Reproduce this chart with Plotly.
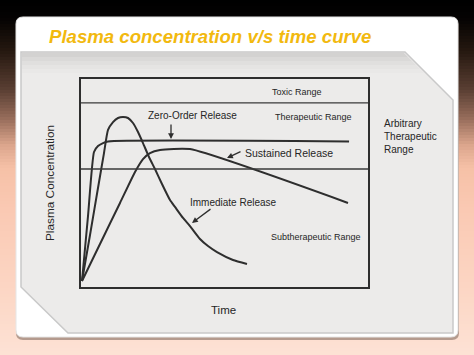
import plotly.graph_objects as go

W, H = 474, 355

# ---------------- data (time, concentration in arbitrary units 0-100) ----------------
immediate_t = [0.35, 3.14, 5.92, 8.01, 9.41, 11.15, 12.89, 14.63, 16.38, 18.12, 19.86, 21.6, 23.69,
               25.78, 28.22, 31.01, 32.75, 35.54, 37.98, 41.46, 44.25, 47.39, 52.96, 57.84]
immediate_c = [2.9, 25.0, 47.6, 64.4, 75.5, 79.3, 81.25, 81.7, 81.25, 78.85, 74.5, 69.2, 62.5,
               56.7, 49.5, 41.8, 38.5, 33.2, 29.3, 23.1, 19.7, 16.8, 13.0, 11.1]

zero_order_t = [0.35, 2.44, 4.53, 5.92, 7.67, 9.41, 93.4]
zero_order_c = [2.9, 34.1, 64.9, 67.8, 69.2, 70.0, 70.0]

sustained_t = [0.35, 6.62, 13.59, 18.82, 21.6, 24.04, 27.53, 37.98, 93.03]
sustained_c = [2.9, 20.7, 40.4, 55.3, 61.5, 64.4, 65.9, 66.3, 40.4]

toxic_level = 88.5
lower_therapeutic_level = 56.7

series_names = ["Immediate Release", "Zero-Order Release", "Sustained Release"]
range_labels = ["Toxic Range", "Therapeutic Range", "Subtherapeutic Range"]


def px(x):
    return x / W


def py(y):
    return 1 - y / H


def hex2rgb(h):
    h = h.lstrip("#")
    return [int(h[i:i + 2], 16) for i in (0, 2, 4)]


fig = go.Figure()

# curves
for t, c, name in [(immediate_t, immediate_c, series_names[0]),
                   (zero_order_t, zero_order_c, series_names[1]),
                   (sustained_t, sustained_c, series_names[2])]:
    fig.add_trace(go.Scatter(x=t, y=c, mode="lines", name=name,
                             line=dict(color="#2e2e2e", width=2, shape="spline", smoothing=0.5),
                             hoverinfo="skip", showlegend=False))

shapes = []

# background vertical gradient
stops = [(0, "#000000"), (18, "#040202"), (50, "#24170f"), (90, "#5a3f33"),
         (120, "#9a6f5d"), (145, "#dba58c"), (168, "#f6c1a7"), (210, "#fac9b3"),
         (290, "#fcd6c4"), (355, "#fde2d5")]
step = 3
y = 0
while y < H:
    yc = y + step / 2
    for i in range(len(stops) - 1):
        y0, c0 = stops[i]
        y1, c1 = stops[i + 1]
        if y0 <= yc <= y1:
            f = (yc - y0) / (y1 - y0)
            a, b = hex2rgb(c0), hex2rgb(c1)
            col = "rgb(%d,%d,%d)" % tuple(round(a[k] + (b[k] - a[k]) * f) for k in range(3))
            break
    shapes.append(dict(type="rect", xref="paper", yref="paper", x0=0, x1=1,
                       y0=py(min(y + step, H)), y1=py(y), line=dict(width=0),
                       fillcolor=col, layer="below"))
    y += step


def rounded_rect_path(x0, y0, x1, y1, r):
    p = lambda x, y: "%.5f,%.5f" % (px(x), py(y))
    return ("M %s L %s Q %s %s L %s Q %s %s L %s Q %s %s L %s Q %s %s Z" % (
        p(x0 + r, y0), p(x1 - r, y0), p(x1, y0), p(x1, y0 + r),
        p(x1, y1 - r), p(x1, y1), p(x1 - r, y1),
        p(x0 + r, y1), p(x0, y1), p(x0, y1 - r),
        p(x0, y0 + r), p(x0, y0), p(x0 + r, y0)))


# slide shadow + slide
shapes.append(dict(type="path", xref="paper", yref="paper",
                   path=rounded_rect_path(16, 19, 459, 340, 7),
                   fillcolor="rgba(90,70,60,0.45)", line=dict(width=0), layer="below"))
shapes.append(dict(type="path", xref="paper", yref="paper",
                   path=rounded_rect_path(16, 17, 458, 337, 7),
                   fillcolor="#ffffff", line=dict(color="#e6e6e6", width=1), layer="below"))


def poly(points):
    return "M " + " L ".join("%.5f,%.5f" % (px(a), py(b)) for a, b in points) + " Z"


scan_pts = [(21, 52), (405, 52), (453, 100), (453, 333), (68, 333), (21, 287)]
shapes.append(dict(type="path", xref="paper", yref="paper", path=poly(scan_pts),
                   fillcolor="#ecebea", line=dict(color="#c9c9c9", width=1.5), layer="below"))
# darker scan band at top
band_cols = ["#d3d2d1", "#dad9d8", "#e0dfde", "#e5e4e3", "#e9e8e7"]
for i, bc in enumerate(band_cols):
    yy0 = 53 + i * 4
    shapes.append(dict(type="path", xref="paper", yref="paper",
                       path=poly([(22, yy0), (404 + i * 4, yy0), (408 + i * 4, yy0 + 4), (22, yy0 + 4)]),
                       fillcolor=bc, line=dict(width=0), layer="below"))

# range lines
for lvl in (toxic_level, lower_therapeutic_level):
    shapes.append(dict(type="line", xref="x domain", yref="y", x0=0, x1=1, y0=lvl, y1=lvl,
                       line=dict(color="#3a3a3a", width=1.4), layer="above"))

ann = []
font = "Liberation Sans, Arial, sans-serif"


def label(text, x, y, size, xanchor="left", angle=0, color="#262626", align="left"):
    ann.append(dict(text=text, x=px(x), y=py(y), xref="paper", yref="paper",
                    xanchor=xanchor, yanchor="middle", showarrow=False, align=align,
                    textangle=angle, font=dict(family=font, size=size, color=color)))


def arrow(hx, hy, tx, ty):
    ann.append(dict(text="", x=px(hx), y=py(hy), xref="paper", yref="paper",
                    ax=tx - hx, ay=ty - hy, showarrow=True, arrowhead=2, arrowsize=0.9,
                    arrowwidth=1.3, arrowcolor="#2e2e2e"))


# title
ann.append(dict(text="<b><i>Plasma concentration v/s time curve</i></b>", x=px(47), y=py(37),
                xref="paper", yref="paper", xanchor="left", yanchor="middle", showarrow=False,
                font=dict(family=font, size=18.6, color="#f2b90f")))

label(range_labels[0], 297, 92, 9, xanchor="center")
label(range_labels[1], 313, 117, 9, xanchor="center")
label(range_labels[2], 316, 237, 9, xanchor="center")
label(series_names[1], 192, 115, 10, xanchor="center")
label(series_names[2], 243, 153, 10.5)
label(series_names[0], 188, 202, 10)
label("Arbitrary<br>Therapeutic<br>Range", 382, 137, 10)
label("Time", 223, 310, 11.5, xanchor="center")
label("Plasma Concentration", 50, 183, 11.8, xanchor="center", angle=-90)

arrow(171, 139, 171, 123)
arrow(227, 158, 242, 151)
arrow(192, 223, 212, 208)

fig.update_layout(
    width=W, height=H, margin=dict(l=0, r=0, t=0, b=0),
    paper_bgcolor="#000000", plot_bgcolor="rgba(0,0,0,0)",
    xaxis=dict(domain=[px(81), px(368)], range=[0, 100], showgrid=False, zeroline=False,
               showticklabels=False, ticks="", showline=True, mirror=True,
               linecolor="#2e2e2e", linewidth=1.5, fixedrange=True),
    yaxis=dict(domain=[py(287), py(79)], range=[0, 100], showgrid=False, zeroline=False,
               showticklabels=False, ticks="", showline=True, mirror=True,
               linecolor="#2e2e2e", linewidth=1.5, fixedrange=True),
    shapes=shapes, annotations=ann, showlegend=False,
)

fig.write_html("out.html")
